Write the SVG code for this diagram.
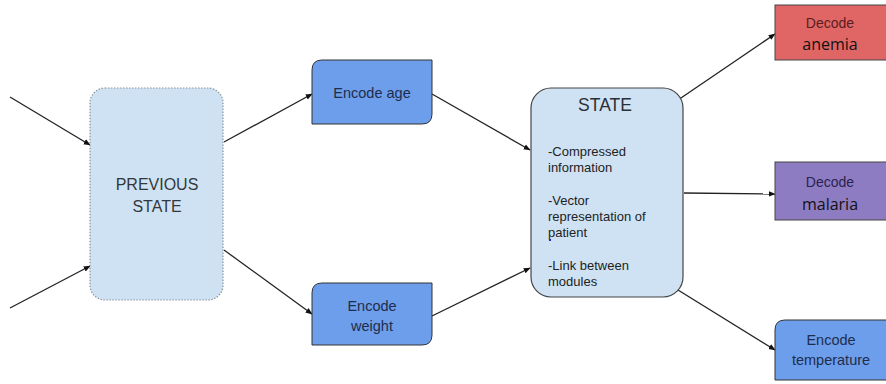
<svg xmlns="http://www.w3.org/2000/svg" width="886" height="384" viewBox="0 0 886 384">
<defs>
<marker id="ah" viewBox="0 0 10 10" refX="9" refY="5" markerWidth="7" markerHeight="7" orient="auto" markerUnits="userSpaceOnUse">
<path d="M0,1 L10,5 L0,9 Z" fill="#111"/>
</marker>
<style>
.t{font-family:"Liberation Sans",Arial,sans-serif;text-anchor:middle}
.c{stroke:#222;stroke-width:1.3;fill:none;marker-end:url(#ah)}
.blue{fill:#6d9eeb;stroke:#333;stroke-width:1}
.light{fill:#cfe2f3}
.navy{fill:#1f2d4d;font-size:14.5px}
.body{fill:#222;font-size:13px;text-anchor:start;font-family:"Liberation Sans",Arial,sans-serif}
.cal{font-family:"Open Sans","Noto Sans",sans-serif;font-size:16px;text-anchor:middle;fill:#111}
</style>
</defs>
<rect width="886" height="384" fill="#fff"/>
<g id="connectors">
<line class="c" x1="10" y1="97" x2="90" y2="145"/>
<line class="c" x1="10" y1="308" x2="90" y2="266"/>
<line class="c" x1="224" y1="142" x2="312" y2="94"/>
<line class="c" x1="224" y1="250" x2="312" y2="314"/>
<line class="c" x1="432" y1="94" x2="530" y2="150"/>
<line class="c" x1="432" y1="316" x2="530" y2="268"/>
<line class="c" x1="678" y1="100" x2="775" y2="34"/>
<line class="c" x1="684" y1="193" x2="775" y2="194"/>
<line class="c" x1="678" y1="290" x2="775" y2="350"/>
</g>
<g id="previous-state">
<rect x="90" y="88" width="133" height="212" rx="15" ry="15" class="light" stroke="#8a949c" stroke-width="1.2" stroke-dasharray="1.5,1.5"/>
<text class="t" x="157" y="190" font-size="16" fill="#33383d">PREVIOUS</text>
<text class="t" x="157" y="212" font-size="16" fill="#33383d">STATE</text>
</g>
<g id="encode-age">
<path class="blue" d="M322,60 H432 V114 Q432,124 422,124 H312 V70 Q312,60 322,60 Z"/>
<text class="t navy" x="372" y="98">Encode age</text>
</g>
<g id="encode-weight">
<path class="blue" d="M322,283 H432 V335 Q432,345 422,345 H312 V293 Q312,283 322,283 Z"/>
<text class="t navy" x="372" y="311">Encode</text>
<text class="t navy" x="372" y="331">weight</text>
</g>
<g id="state">
<rect x="531" y="88" width="152" height="209" rx="20" ry="20" class="light" stroke="#444" stroke-width="1.2"/>
<text class="t" x="605" y="111" font-size="17.5" fill="#2b2f33">STATE</text>
<text class="body" x="548" y="156">-Compressed</text>
<text class="body" x="548" y="172">information</text>
<text class="body" x="548" y="205">-Vector</text>
<text class="body" x="548" y="221">representation of</text>
<text class="body" x="548" y="237">patient</text>
<text class="body" x="548" y="270">-Link between</text>
<text class="body" x="548" y="286">modules</text>
<rect x="549" y="239" width="2" height="2" fill="#2222ee"/>
</g>
<g id="decode-anemia">
<rect x="775" y="5" width="112" height="55" fill="#e06666" stroke="#444" stroke-width="1"/>
<text class="t" x="830" y="28" font-size="14" fill="#5a1e1e">Decode</text>
<text class="cal" x="830" y="50">anemia</text>
</g>
<g id="decode-malaria">
<rect x="775" y="162" width="112" height="58" fill="#8e7cc3" stroke="#444" stroke-width="1"/>
<text class="t" x="830" y="187" font-size="14" fill="#2a2350">Decode</text>
<text class="cal" x="830" y="210">malaria</text>
</g>
<g id="encode-temperature">
<path class="blue" d="M785,320 H887 V380 H775 V330 Q775,320 785,320 Z"/>
<text class="t navy" x="831" y="345">Encode</text>
<text class="t navy" x="831" y="365">temperature</text>
</g>
</svg>
